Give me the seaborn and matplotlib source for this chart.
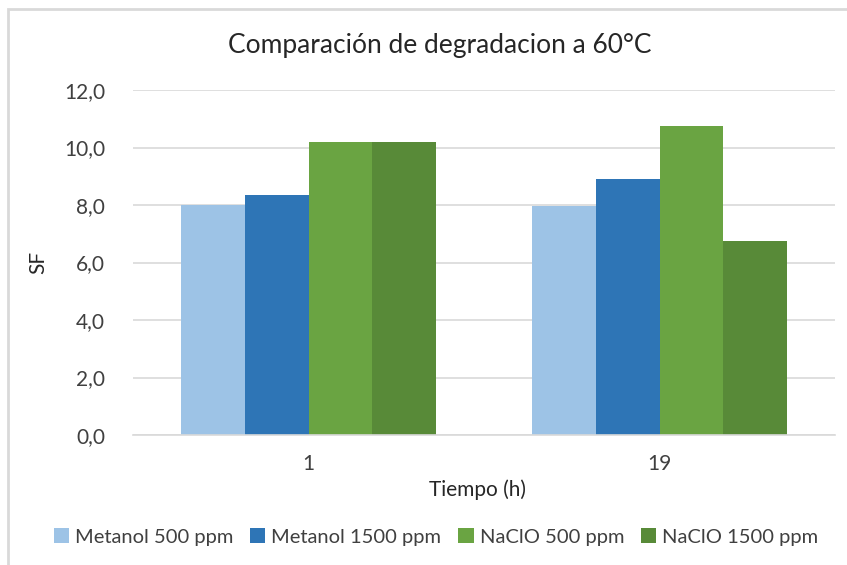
import matplotlib
matplotlib.use("Agg")
import matplotlib.pyplot as plt
import seaborn as sns
import pandas as pd
from matplotlib.patches import Rectangle

categories = ["1", "19"]
series = ["Metanol 500 ppm", "Metanol 1500 ppm", "NaClO 500 ppm", "NaClO 1500 ppm"]
metanol_500 = [8.0, 7.95]
metanol_1500 = [8.35, 8.9]
naclo_500 = [10.2, 10.75]
naclo_1500 = [10.2, 6.75]
colors = ["#9DC3E6", "#2E75B6", "#6AA442", "#588A38"]
yticks = [0, 2, 4, 6, 8, 10, 12]

rows = []
for name, vals in zip(series, [metanol_500, metanol_1500, naclo_500, naclo_1500]):
    for c, v in zip(categories, vals):
        rows.append({"Tiempo": c, "Serie": name, "SF": v})
df = pd.DataFrame(rows)

sns.set_theme(style="white")
plt.rcParams['font.family'] = ['Lato', 'DejaVu Sans']

W, H = 847, 565
fig = plt.figure(figsize=(8.47, 5.65), dpi=100)
x0, x1, y0, y1 = 133, 835, 435, 90
ax = fig.add_axes([x0/W, 1-y0/H, (x1-x0)/W, (y0-y1)/H])

sns.barplot(data=df, x="Tiempo", y="SF", hue="Serie", hue_order=series,
            order=categories, palette=colors, width=0.724, ax=ax,
            saturation=1, legend=True, edgecolor="none")

ax.set_ylim(0, 12)
ax.set_yticks(yticks)
ax.set_yticklabels([f"{t:.1f}".replace(".", ",") for t in yticks], fontsize=15, color="#404040")
ax.tick_params(axis="x", labelsize=15, colors="#404040", length=0, pad=14)
ax.tick_params(axis="y", length=0, pad=20)
ax.yaxis.grid(True, color="#D9D9D9", linewidth=1.2)
ax.set_axisbelow(True)
for s in ["top", "right", "left"]:
    ax.spines[s].set_visible(False)
ax.spines["bottom"].set_color("#D9D9D9")
ax.spines["bottom"].set_linewidth(1.2)

ax.set_xlabel("")
ax.set_ylabel("")
fig.text(477/W, 1-490/H, "Tiempo (h)", ha="center", va="center", fontsize=15, color="#262626")
fig.text(38/W, 1-262/H, "SF", ha="center", va="center", rotation=90, fontsize=15, color="#262626")
fig.text(440/W, 1-45/H, "Comparación de degradacion a 60°C", ha="center", va="center",
         fontsize=19, color="#262626")

leg = ax.legend(loc="center", bbox_to_anchor=((436-x0)/(x1-x0), (y0-537)/(y0-y1)),
          ncol=4, frameon=False, fontsize=14.5, handlelength=0.75, handleheight=0.75,
          handletextpad=0.3, columnspacing=0.85, labelcolor="#404040")

fig.patches.append(Rectangle((8/W, -0.1), 1.2, 1+0.1-9/H, transform=fig.transFigure,
                             fill=False, edgecolor="#D9D9D9", linewidth=2))

fig.savefig("out.png", dpi=100, facecolor="white")
